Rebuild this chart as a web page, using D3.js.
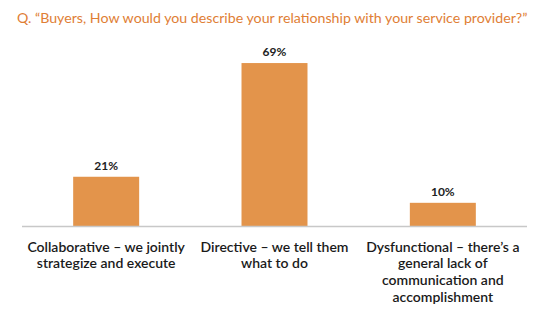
<!DOCTYPE html>
<html><head><meta charset="utf-8">
<script src="https://cdn.jsdelivr.net/npm/d3@7"></script>
<style>body{margin:0;background:#fff;} svg{display:block;}</style>
</head><body>
<svg id="c" width="543" height="334"></svg>
<script>
const title = "Q. \u201cBuyers, How would you describe your relationship with your service provider?\u201d";
const categories = [
  ["Collaborative \u2013 we jointly", "strategize and execute"],
  ["Directive \u2013 we tell them", "what to do"],
  ["Dysfunctional \u2013 there\u2019s a", "general lack of", "communication and", "accomplishment"]
];
const values = [21, 69, 10];
const valueLabels = ["21%", "69%", "10%"];

const svg = d3.select("#c");
const font = "Lato, 'Open Sans', sans-serif";
const x = d3.scaleBand().domain(d3.range(categories.length)).range([22, 527]).paddingInner(0.608).paddingOuter(0.304);
const y = d3.scaleLinear().domain([0, 80]).range([226.5, 37]);

svg.append("text").attr("x", 17).attr("y", 23).attr("fill", "#E07E35")
  .style("font-family", font).style("font-size", "14.2px").text(title);

svg.selectAll("rect.bar").data(values).join("rect").attr("class", "bar")
  .attr("x", (d, i) => x(i)).attr("width", x.bandwidth())
  .attr("y", d => y(d)).attr("height", d => y(0) - y(d))
  .attr("fill", "#E3944B");

svg.append("line").attr("x1", 22).attr("x2", 527).attr("y1", y(0)).attr("y2", y(0))
  .attr("stroke", "#C8C8C8").attr("stroke-width", 1.5);

svg.selectAll("text.val").data(values).join("text").attr("class", "val")
  .attr("x", (d, i) => x(i) + x.bandwidth() / 2).attr("y", d => y(d) - 7)
  .attr("text-anchor", "middle").attr("fill", "#222")
  .style("font-family", font).style("font-size", "12px").style("font-weight", "700")
  .text((d, i) => valueLabels[i]);

const cat = svg.selectAll("text.cat").data(categories).join("text").attr("class", "cat")
  .attr("text-anchor", "middle").attr("fill", "#1a1a1a")
  .style("font-family", font).style("font-size", "14px").style("font-weight", "600");
cat.each(function(lines, i) {
  d3.select(this).selectAll("tspan").data(lines).join("tspan")
    .attr("x", x(i) + x.bandwidth() / 2).attr("y", (l, j) => 251.5 + j * 16.7).text(l => l);
});
</script>
</body></html>
